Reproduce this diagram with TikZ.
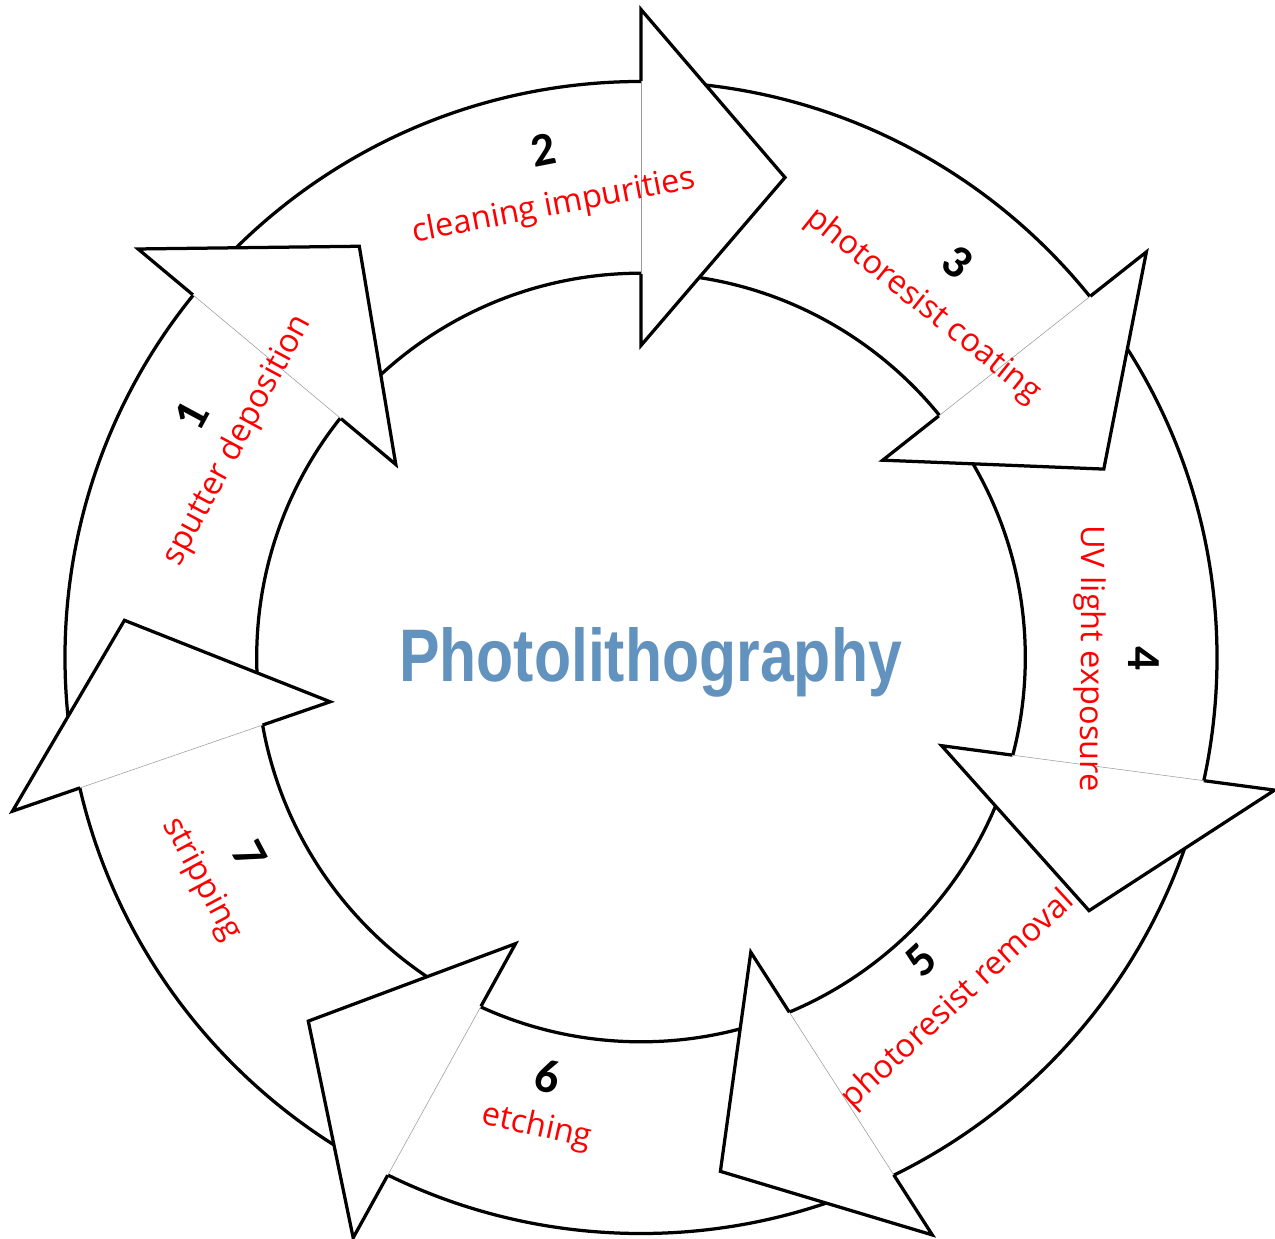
\documentclass[tikz,border=0pt]{standalone}
\usepackage{fontspec}
\setmainfont{Open Sans}
\newfontfamily\numfont{Carlito}
\newfontfamily\titlefont[FakeStretch=0.815]{Liberation Sans}
\usepackage{xcolor}
\usepackage{tikz}
\usetikzlibrary{calc}
\definecolor{titleblue}{RGB}{98,146,190}
\tikzset{
  ringline/.style={draw=black,line width=1.85pt},
  headshape/.style={fill=white,draw=black,line width=1.85pt,line join=miter},
  seamline/.style={draw=black!40,line width=0.3pt},
  stepnum/.style={font=\numfont\bfseries\fontsize{27}{27}\selectfont,inner sep=0pt},
  steplabel/.style={font=\fontsize{18.5}{18.5}\selectfont,text=red,inner sep=0pt},
  titletext/.style={font=\titlefont\bfseries\fontsize{42.4}{42.4}\selectfont,text=titleblue,inner sep=0pt}
}

\begin{document}
\begin{tikzpicture}
  \path[use as bounding box,fill=white] (-12.82,-11.63) rectangle (12.68,13.15);
  % ring
  \draw[ringline,fill=white] (0,0) circle[radius=11.52cm];
  \draw[ringline] (0,0) circle[radius=7.686cm];
  % arrow heads: base mid angle / axis direction
  \foreach \i/\mid/\ax in {1/141.2/50.1, 2/90/0, 3/38.9/-51.7, 4/-13.3/-97.6,
                           5/-65.3/-147.3, 6/-115.5/151.1, 7/-168.1/109.0} {
    \coordinate (m\i) at (\mid:9.6cm);
    \coordinate (in\i) at ($(m\i)+(\ax-90:1.93cm)$);
    \coordinate (out\i) at ($(m\i)+(\ax+90:1.93cm)$);
    \coordinate (tip\i) at ($(m\i)+(\ax:2.88cm)$);
    \path[headshape] (in\i) -- ($(m\i)+(\ax-90:3.36cm)$) -- (tip\i)
      -- ($(m\i)+(\ax+90:3.36cm)$) -- (out\i);
    \draw[seamline] (in\i) -- (out\i);
  }
  % step numbers and labels
  \foreach \i/\ang/\rn/\rt/\rot/\txt in {
      1/151.7/10.2/9.16/61.7/sputter deposition,
      2/100.9/10.34/9.18/10.9/cleaning impurities,
      3/51.3/10.14/9.02/-38.7/photoresist coating,
      4/-0.1/10.06/8.97/-90.1/UV light exposure,
      5/-47.2/8.24/9.34/42.8/photoresist removal,
      6/-102.5/8.58/9.63/-12.5/etching,
      7/-153.2/8.76/9.85/-62/stripping} {
    \node[stepnum,rotate=\rot] (num\i) at (\ang:\rn cm) {\i};
    \node[steplabel,rotate=\rot] (lab\i) at (\ang:\rt cm) {\txt};
  }
  \node[titletext,anchor=base] (title) at (0.19,-0.484) {Photolithography};
\end{tikzpicture}
\end{document}
